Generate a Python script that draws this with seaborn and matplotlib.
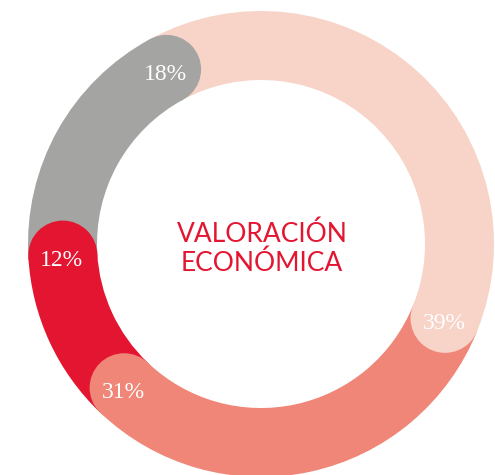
import numpy as np
import matplotlib
matplotlib.use("Agg")
import matplotlib.pyplot as plt
import seaborn as sns
from matplotlib.patches import Circle

sns.set_theme(style="white")

values = [39, 31, 12, 18]
pct_labels = ["39%", "31%", "12%", "18%"]
colors = ["#F8D3C8", "#EF8677", "#E31530", "#A4A5A3"]
center_text = "VALORACIÓN\nECONÓMICA"

W, H = 495, 475
fig = plt.figure(figsize=(W / 100, H / 100), dpi=100)
ax = fig.add_axes([0, 0, 1, 1])

cx, cy = 261, H - 244
R = 233
width = 69
start = -28.4  # degrees clockwise from top

ax.pie(values, colors=colors, startangle=90 - start, counterclock=False,
       radius=R, center=(cx, cy),
       wedgeprops=dict(width=width, linewidth=0, antialiased=True))

mid = R - width / 2
total = sum(values)
cum = 0
for v, lab, col in zip(values, pct_labels, colors):
    cum += v
    theta = start + 360 * cum / total
    ang = np.deg2rad(90 - theta)
    x = cx + mid * np.cos(ang)
    y = cy + mid * np.sin(ang)
    ax.add_patch(Circle((x, y), width / 2, color=col, lw=0, zorder=5))
    ax.text(x - 1, y - 5, lab, ha="center", va="center", color="white",
            fontsize=17, family="Liberation Serif", zorder=6)

ax.text(cx + 1, H - 249, center_text, ha="center", va="center",
        color="#E31530", fontsize=19, family="Lato", linespacing=1.15)

ax.set_xlim(0, W)
ax.set_ylim(0, H)
ax.set_aspect("equal")
ax.axis("off")
fig.savefig("out.png", dpi=100, facecolor="white")
